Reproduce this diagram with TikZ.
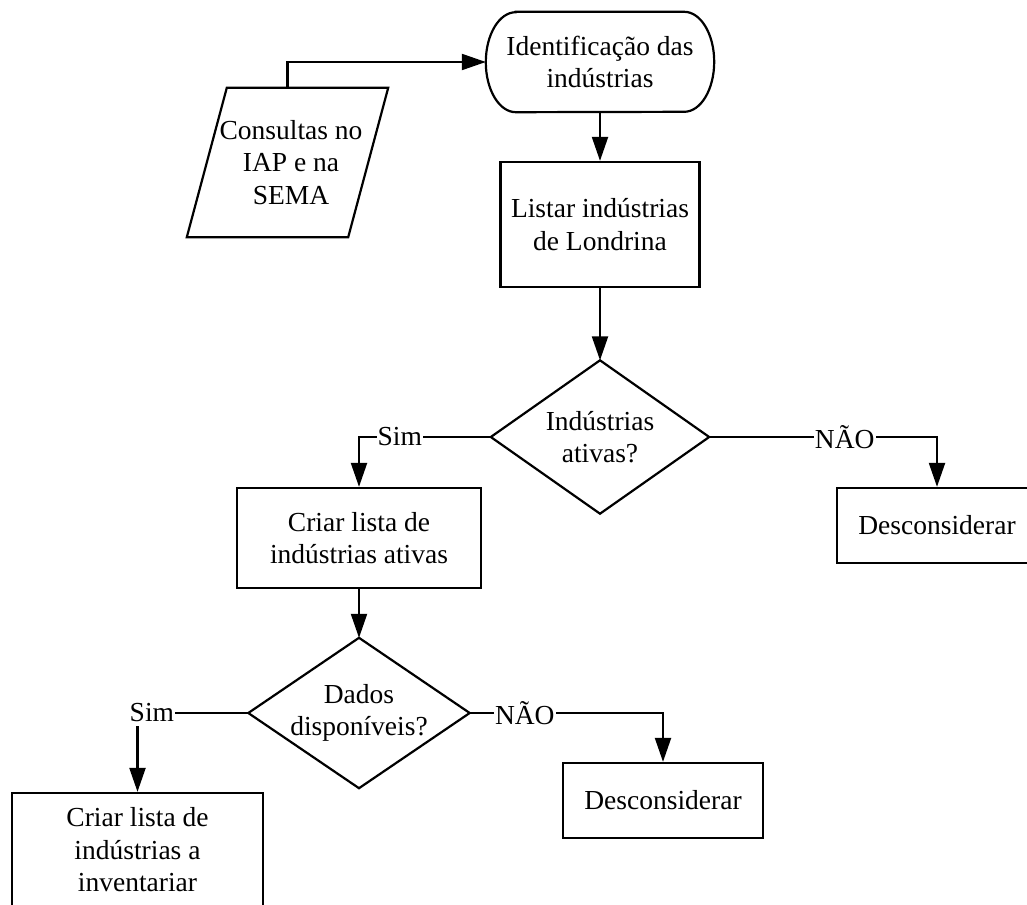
\documentclass[tikz,border=0pt]{standalone}
\usepackage{fontspec}
\setmainfont{Liberation Serif}
\usetikzlibrary{arrows.meta,calc}
\begin{document}
\begin{tikzpicture}[x=1pt,y=-1pt,
  every node/.style={font=\fontsize{27.5}{32.5}\selectfont, align=center, inner sep=0pt},
  boxnode/.style={draw, line width=2.3pt, rectangle},
  ghost/.style={rectangle},
  ln/.style={line width=2.2pt},
  arr/.style={ln, -{Triangle[length=24pt,width=16pt]}},
  lbl/.style={fill=white, inner xsep=1pt, inner ysep=4pt}
]
\useasboundingbox (0,0) rectangle (1027,904);

% terminal
\node[ghost, minimum width=228pt, minimum height=100pt] (t) at (600,62) {Identificação das\\indústrias};
\draw[ln] ([xshift=30pt]t.north west) -- ([xshift=-30pt]t.north east)
  arc[start angle=90,end angle=-90,x radius=30pt,y radius=50pt]
  -- ([xshift=30pt]t.south west)
  arc[start angle=270,end angle=90,x radius=30pt,y radius=50pt] -- cycle;

% input parallelogram
\node[ghost, minimum width=161pt, minimum height=149pt] (p) at (291,162.5) {Consultas no\\IAP e na\\SEMA};
\draw[ln] ([xshift=16.5pt]p.north west) -- ([xshift=16.5pt]p.north east)
  -- ([xshift=-23.5pt]p.south east) -- ([xshift=-23.5pt]p.south west) -- cycle;

% process boxes
\node[boxnode, minimum width=199pt, minimum height=125pt] (l) at (600,224.5) {Listar indústrias\\de Londrina};
\node[boxnode, minimum width=244pt, minimum height=100pt] (c1) at (359,538) {Criar lista de\\indústrias ativas};
\node[boxnode, minimum width=200pt, minimum height=75pt] (x1) at (937,525.5) {Desconsiderar};
\node[boxnode, minimum width=200pt, minimum height=75pt] (x2) at (663,800.5) {Desconsiderar};
\node[boxnode, minimum width=251pt, minimum height=114pt] (c2) at (137.5,850) {Criar lista de\\indústrias a\\inventariar};

% decisions
\node[ghost, minimum width=218pt, minimum height=153pt] (d1) at (600,437) {Indústrias\\ativas?};
\draw[ln] (d1.west) -- (d1.north) -- (d1.east) -- (d1.south) -- cycle;
\node[ghost, minimum width=221pt, minimum height=150pt] (d2) at (359,713) {Dados\\disponíveis?};
\draw[ln] (d2.west) -- (d2.north) -- (d2.east) -- (d2.south) -- cycle;

% connectors
\draw[arr] ([xshift=-3.5pt]p.north) |- (t.west);
\draw[arr] (t.south) -- (l.north);
\draw[arr] (l.south) -- (d1.north);
\draw[arr] (d1.west) -- node[lbl, pos=0.69] {Sim} (c1.north |- d1.west) -- (c1.north);
\draw[arr] (d1.east) -- node[lbl, pos=0.595] {NÃO} (x1.north |- d1.east) -- (x1.north);
\draw[arr] (c1.south) -- (d2.north);
\draw[arr] (d2.west) -- node[lbl, pos=0.87] {Sim} (c2.north |- d2.west) -- (c2.north);
\draw[arr] (d2.east) -- node[lbl, pos=0.285] {NÃO} (x2.north |- d2.east) -- (x2.north);
\end{tikzpicture}
\end{document}
